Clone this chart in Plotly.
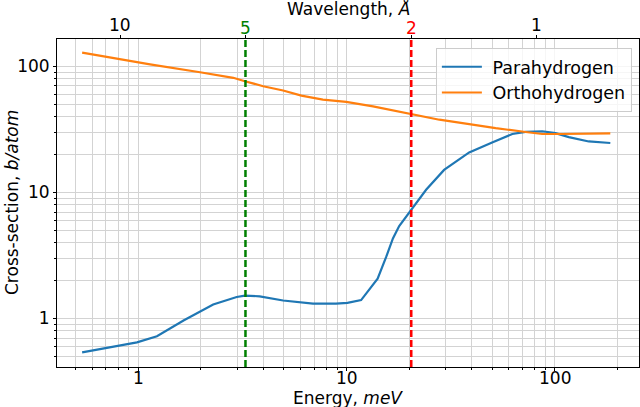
import plotly.graph_objects as go
import numpy as np

# ---- data ----
para_E = [0.538, 0.708, 0.986, 1.23, 1.65, 2.29, 2.97, 3.25, 3.83, 4.96, 6.9, 8.9,
          10.1, 11.75, 14.1, 15.5, 16.7, 17.9, 20.4, 24.1, 29.4, 34.7, 38.8, 50,
          62.5, 72.4, 87, 100.7, 116.7, 145.5, 184.6]
para_sigma = [0.539, 0.584, 0.647, 0.722, 0.964, 1.29, 1.48, 1.52, 1.50, 1.39, 1.31, 1.31,
              1.33, 1.40, 2.07, 3.08, 4.32, 5.41, 7.25, 10.5, 15.1, 18.4, 20.8, 24.9,
              29.1, 30.3, 30.6, 29.6, 27.5, 25.4, 24.7]
ortho_E = [0.538, 0.79, 1.14, 1.98, 2.86, 3.25, 3.98, 4.96, 6.07, 7.7, 9.97, 13.4,
           20.4, 27.9, 38.8, 52, 72.4, 87, 108, 184.6]
ortho_sigma = [128.6, 115, 104, 90, 81.3, 76.4, 69.7, 64.4, 58.7, 54.6, 52.3, 48.3,
               42, 37.8, 34.9, 32.4, 30.2, 29.1, 29.1, 29.4]

wl_ticks = [10, 5, 2, 1]
wl_tick_colors = ["black", "green", "red", "black"]
wl_label_y = [1.0440, 1.0345, 1.0345, 1.0440]
marked_wl = [5, 2]
marked_colors = ["green", "red"]
E_CONST = 81.81  # E[meV] = 81.81 / lambda[A]^2

x_ticks = [1, 10, 100]
y_ticks = [1, 10, 100]

def wl_to_E(wl):
    return E_CONST / wl ** 2

x_range = [np.log10(0.4075), np.log10(253.5)]
y_range = [-0.385, 2.218]

minor_x = [m * 10.0 ** d for d in range(-1, 3) for m in range(2, 10)]
minor_y = [m * 10.0 ** d for d in range(-1, 3) for m in range(2, 10)]

GRID = "#d3d3d3"
FONT = "DejaVu Sans"
FS = 17

fig = go.Figure()
fig.add_trace(go.Scatter(x=para_E, y=para_sigma, mode="lines", name=" Parahydrogen",
                         line=dict(color="#1f77b4", width=2.2)))
fig.add_trace(go.Scatter(x=ortho_E, y=ortho_sigma, mode="lines", name=" Orthohydrogen",
                         line=dict(color="#ff7f0e", width=2.2)))

for wl, c in zip(marked_wl, marked_colors):
    e = wl_to_E(wl)
    fig.add_shape(type="line", xref="x", yref="paper", x0=e, x1=e, y0=0, y1=1,
                  line=dict(color=c, width=2.5, dash="7px,3px"))

# invisible trace to activate top axis
fig.add_trace(go.Scatter(x=[wl_to_E(w) for w in wl_ticks], y=[1] * len(wl_ticks),
                         xaxis="x2", yaxis="y", mode="markers", opacity=0,
                         showlegend=False, hoverinfo="skip"))

annotations = [
    dict(text="Energy, <i>meV</i>", xref="paper", yref="paper", x=0.5, y=-0.095,
         xanchor="center", yanchor="middle", showarrow=False, font=dict(size=FS)),
    dict(text="Wavelength, <i>Å</i>", xref="paper", yref="paper", x=0.5, y=1.092,
         xanchor="center", yanchor="middle", showarrow=False, font=dict(size=FS)),
    dict(text="Cross-section, <i>b/atom</i>", xref="paper", yref="paper", x=-0.0773, y=0.5,
         xanchor="center", yanchor="middle", showarrow=False, textangle=-90,
         font=dict(size=FS)),
]
for v in x_ticks:
    annotations.append(dict(text=str(v), xref="x", yref="paper", x=np.log10(v), y=-0.0345,
                            xanchor="center", yanchor="middle", showarrow=False,
                            font=dict(size=FS)))
for w, c, yy in zip(wl_ticks, wl_tick_colors, wl_label_y):
    annotations.append(dict(text=str(w), xref="x", yref="paper", x=np.log10(wl_to_E(w)), y=yy,
                            xanchor="center", yanchor="middle", showarrow=False,
                            font=dict(size=FS, color=c)))

fig.update_layout(
    width=640, height=407,
    margin=dict(l=57, r=1, t=39, b=40),
    paper_bgcolor="white", plot_bgcolor="white",
    font=dict(family=FONT, size=FS, color="black"),
    showlegend=True,
    legend=dict(x=0.651, y=0.973, xanchor="left", yanchor="top",
                bordercolor="#cccccc", borderwidth=1, bgcolor="rgba(255,255,255,0.8)",
                font=dict(size=17.5), itemwidth=40, tracegroupgap=0),
    xaxis=dict(type="log", range=x_range, tickvals=x_ticks, showticklabels=False,
               ticks="outside", ticklen=3, tickcolor="black", showline=True, linecolor="black",
               linewidth=1, mirror=False, showgrid=True, gridcolor=GRID, gridwidth=0.8,
               zeroline=False, automargin=False,
               minor=dict(tickmode="array", tickvals=minor_x, ticks="outside", ticklen=2,
                          tickcolor="black", showgrid=True, gridcolor=GRID, gridwidth=0.8)),
    xaxis2=dict(type="log", range=x_range, overlaying="x", side="top", anchor="y",
                tickvals=[wl_to_E(w) for w in wl_ticks], showticklabels=False,
                ticks="outside", ticklen=3, tickcolor="black", showline=True, linecolor="black",
                linewidth=1, showgrid=False, zeroline=False, automargin=False),
    yaxis=dict(type="log", range=y_range, tickvals=y_ticks, ticktext=[str(v) for v in y_ticks],
               ticks="outside", ticklen=3, tickcolor="black", showline=True, linecolor="black",
               linewidth=1, mirror=True, showgrid=True, gridcolor=GRID, gridwidth=0.8,
               zeroline=False, automargin=False,
               minor=dict(tickmode="array", tickvals=minor_y, ticks="outside", ticklen=2,
                          tickcolor="black", showgrid=True, gridcolor=GRID, gridwidth=0.8)),
    annotations=annotations,
)

fig.write_html("out.html")
